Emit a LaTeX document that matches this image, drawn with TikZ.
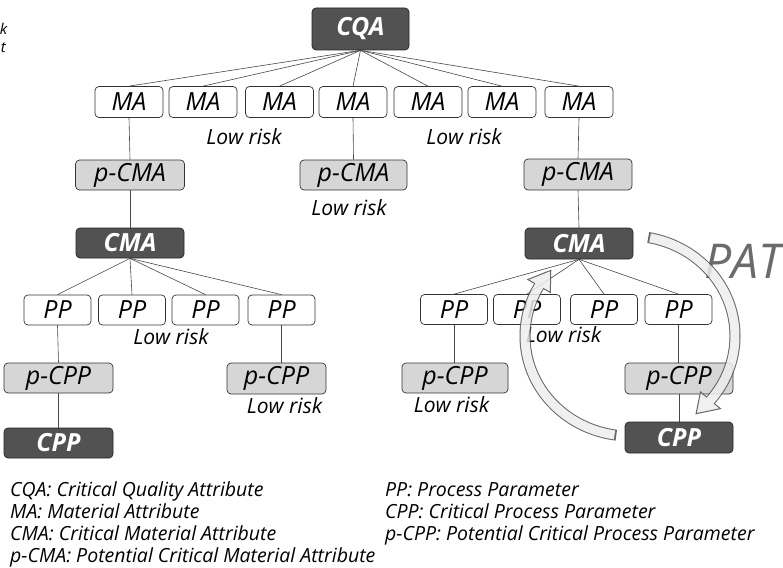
\documentclass[tikz,border=0pt]{standalone}
\usepackage{fontspec}
\setmainfont{Open Sans}
\begin{document}
\begin{tikzpicture}[x=1pt,y=-1pt,
  sz/.style 2 args={minimum width=#1pt, minimum height=#2pt},
  box/.style={draw=black!80, line width=0.7pt, rounded corners=4pt, inner sep=0pt,
    font=\itshape\fontsize{25}{25}\selectfont, text=black},
  plainbox/.style={box, fill=white},
  potbox/.style={box, fill=black!16},
  critbox/.style={box, fill=black!68, draw=black!85, text=white,
    font=\bfseries\itshape\fontsize{25}{25}\selectfont},
  risk/.style={font=\itshape\fontsize{21}{21}\selectfont, inner sep=0pt},
  link/.style={draw=black!72, line width=0.6pt},
  legend/.style={font=\itshape\fontsize{19.5}{19.5}\selectfont, inner sep=0pt, anchor=base west},
  band/.style={line width=11pt, draw=black!70},
  bandfill/.style={line width=9pt, draw=black!7},
]
\useasboundingbox (0,0) rectangle (783,567);

% fragments of text cut by the left border
\node[font=\itshape\fontsize{15}{15}\selectfont, inner sep=0pt, anchor=base east] (fragk) at (7.5,35) {k};
\node[font=\itshape\fontsize{15}{15}\selectfont, inner sep=0pt, anchor=base east] (fragt) at (6,53) {t};

% top level
\node[critbox, sz={97}{42}] (cqa) at (360.5,29) {CQA};

% material attributes
\foreach \i/\x in {1/129,2/203,3/279.5,4/353,5/428,6/502,7/579}
  \node[plainbox, sz={68}{31}] (ma\i) at (\x,102) {MA};
\foreach \i in {1,...,7}
  \draw[link] (cqa.south) -- (ma\i.north);
\node[risk] (lrma1) at (244,137) {Low risk};
\node[risk] (lrma2) at (464,137) {Low risk};

% potential critical material attributes
\node[potbox, sz={109}{30}] (pcmaL) at (130,175) {p-CMA};
\node[potbox, sz={107}{30}] (pcmaM) at (353.5,175) {p-CMA};
\node[potbox, sz={108}{31}] (pcmaR) at (578,174.5) {p-CMA};
\node[risk] (lrpcma) at (349,208) {Low risk};
\draw[link] (ma1.south) -- (pcmaL.north);
\draw[link] (ma4.south) -- (pcmaM.north);
\draw[link] (ma7.south) -- (pcmaR.north);

% critical material attributes
\node[critbox, sz={108}{30}] (cmaL) at (130,243) {CMA};
\node[critbox, sz={108}{31}] (cmaR) at (579,243.5) {CMA};
\draw[link] (pcmaL.south) -- (cmaL.north);
\draw[link] (pcmaR.south) -- (cmaR.north);

% process parameters, left branch
\foreach \i/\x in {1/57.5,2/132,3/205.5,4/281.5}
  \node[plainbox, sz={67}{30}] (ppL\i) at (\x,310) {PP};
\foreach \i in {1,...,4}
  \draw[link] (cmaL.south) -- (ppL\i.north);
\node[risk] (lrppL) at (171,337) {Low risk};
\node[potbox, sz={109}{30}] (pcppL1) at (58.5,378) {p-CPP};
\node[potbox, sz={99}{31}] (pcppL2) at (276.5,378.5) {p-CPP};
\node[risk] (lrpcppL) at (284.5,406) {Low risk};
\node[critbox, sz={109}{30}] (cppL) at (58.5,443) {CPP};
\draw[link] (ppL1.south) -- (pcppL1.north);
\draw[link] (ppL4.south) -- (ppL4.south |- pcppL2.north);
\draw[link] (pcppL1.south) -- (cppL.north);

% process parameters, right branch
\foreach \i/\x in {1/454,2/527,3/604,4/678.5}
  \node[plainbox, sz={67}{30}] (ppR\i) at (\x,309.5) {PP};
\foreach \i in {1,...,4}
  \draw[link] (cmaR.south) -- (ppR\i.north);
\node[risk] (lrppR) at (563.5,335) {Low risk};
\node[potbox, sz={106}{30}] (pcppR1) at (455,378) {p-CPP};
\node[risk] (lrpcppR) at (451.5,405) {Low risk};
\node[potbox, sz={108}{31}] (pcppR2) at (679,378.5) {p-CPP};
\node[critbox, sz={108}{31}] (cppR) at (679,437.5) {CPP};
\draw[link] (ppR1.south) -- (ppR1.south |- pcppR1.north);
\draw[link] (ppR4.south) -- (ppR4.south |- pcppR2.north);
\draw[link] (pcppR2.south) -- (cppR.north);

% PAT loop
\node[font=\itshape\fontsize{48}{48}\selectfont, text=black!58, inner sep=0pt, anchor=base west] (pat) at (704,278) {PAT};
\begin{scope}[transparency group, opacity=0.85]
  % CMA -> CPP
  \draw[band] plot[domain=-80:41, samples=60, smooth] ({630+105*cos(\x)},{336+100*sin(\x)});
  \filldraw[fill=black!7, draw=black!70, line width=1pt, line join=miter]
    ({630+92*cos(40)},{336+87*sin(40)}) -- ({630+105*cos(51)},{336+100*sin(51)})
    -- ({630+118*cos(40)},{336+113*sin(40)}) -- cycle;
  \draw[bandfill] plot[domain=-79:42, samples=60, smooth] ({630+105*cos(\x)},{336+100*sin(\x)});
  % CPP -> CMA
  \draw[band] plot[domain=97.5:211, samples=60, smooth] ({630+105*cos(\x)},{336+100*sin(\x)});
  \filldraw[fill=black!7, draw=black!70, line width=1pt, line join=miter]
    ({630+92*cos(210)},{336+87*sin(210)}) -- ({630+105*cos(221)},{336+100*sin(221)})
    -- ({630+118*cos(210)},{336+113*sin(210)}) -- cycle;
  \draw[bandfill] plot[domain=98.5:212, samples=60, smooth] ({630+105*cos(\x)},{336+100*sin(\x)});
\end{scope}

% legend
\node[legend] (lg1) at (10,496) {CQA: Critical Quality Attribute};
\node[legend] (lg2) at (10,518) {MA: Material Attribute};
\node[legend] (lg3) at (10,540) {CMA: Critical Material Attribute};
\node[legend] (lg4) at (10,562) {p-CMA: Potential Critical Material Attribute};
\node[legend] (lg5) at (385,496) {PP: Process Parameter};
\node[legend] (lg6) at (385,518) {CPP: Critical Process Parameter};
\node[legend] (lg7) at (385,540) {p-CPP: Potential Critical Process Parameter};
\end{tikzpicture}
\end{document}
